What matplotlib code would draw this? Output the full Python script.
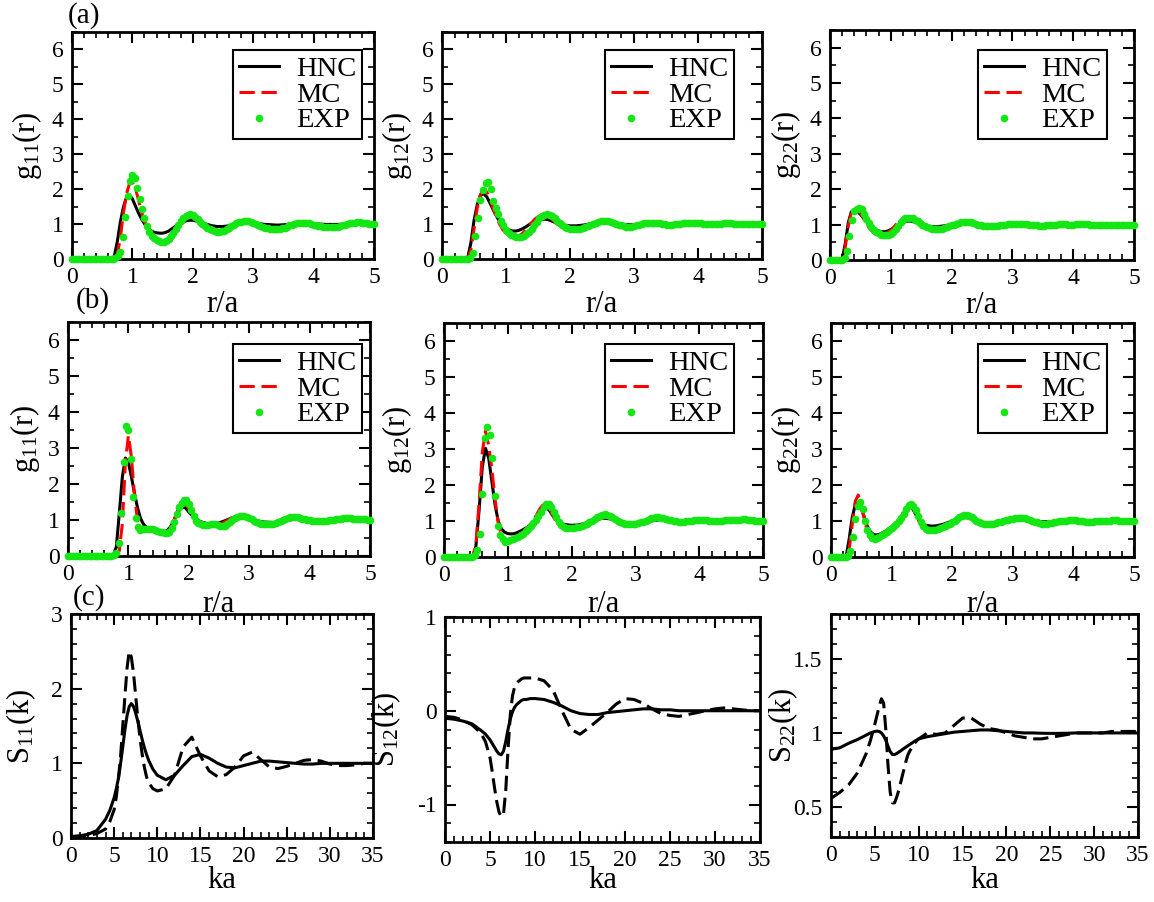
import numpy as np
import matplotlib
matplotlib.use("Agg")
import matplotlib.pyplot as plt
from matplotlib.ticker import MultipleLocator

plt.rcParams['font.family'] = ['Liberation Serif', 'DejaVu Serif']
plt.rcParams['mathtext.fontset'] = 'custom'
plt.rcParams['mathtext.rm'] = 'Liberation Serif'
plt.rcParams['mathtext.it'] = 'Liberation Serif:italic'
plt.rcParams['axes.unicode_minus'] = False

# ---------------- g(r) data: HNC and MC curves ----------------
r_line = [0.00, 0.05, 0.10, 0.15, 0.20, 0.25, 0.30, 0.35, 0.40, 0.45,
          0.50, 0.55, 0.60, 0.65, 0.70, 0.75, 0.80, 0.85, 0.90, 0.95,
          1.00, 1.05, 1.10, 1.15, 1.20, 1.25, 1.30, 1.35, 1.40, 1.45,
          1.50, 1.55, 1.60, 1.65, 1.70, 1.75, 1.80, 1.85, 1.90, 1.95,
          2.0, 2.1, 2.2, 2.3, 2.4, 2.5, 2.6, 2.7, 2.8, 2.9,
          3.0, 3.2, 3.4, 3.6, 3.8, 4.0, 4.2, 4.4, 4.6, 4.8,
          5.0]

hnc_a11 = [0, 0, 0, 0, 0, 0, 0, 0, 0, 0,
           0, 0, 0, 0, 0.08, 0.5, 1.05, 1.48, 1.75, 1.83,
           1.72, 1.52, 1.32, 1.15, 1.01, 0.9, 0.82, 0.77, 0.75, 0.74,
           0.74, 0.76, 0.8, 0.86, 0.92, 0.98, 1.03, 1.07, 1.1, 1.11,
           1.11, 1.07, 1.01, 0.96, 0.93, 0.93, 0.95, 0.99, 1.02, 1.04,
           1.03, 0.99, 0.97, 0.99, 1.01, 1.01, 0.99, 0.99, 1.0, 1.0,
           1.0]
mc_a11 = [0, 0, 0, 0, 0, 0, 0, 0, 0, 0,
          0, 0, 0, 0, 0, 0.12, 0.6, 1.3, 1.85, 2.15,
          2.2, 2.02, 1.7, 1.35, 1.08, 0.88, 0.74, 0.64, 0.57, 0.53,
          0.52, 0.54, 0.6, 0.7, 0.83, 0.97, 1.09, 1.19, 1.25, 1.27,
          1.25, 1.12, 0.96, 0.85, 0.8, 0.81, 0.88, 0.98, 1.05, 1.07,
          1.03, 0.92, 0.87, 0.95, 1.03, 1.0, 0.93, 0.92, 0.99, 1.04,
          1.0]

hnc_a12 = [0, 0, 0, 0, 0, 0, 0, 0, 0.02, 0.45,
           1.1, 1.55, 1.82, 1.87, 1.78, 1.6, 1.41, 1.23, 1.08, 0.96,
           0.88, 0.83, 0.8, 0.8, 0.82, 0.86, 0.91, 0.97, 1.03, 1.08,
           1.12, 1.14, 1.14, 1.13, 1.1, 1.06, 1.02, 0.99, 0.97, 0.96,
           0.95, 0.95, 0.97, 1.0, 1.03, 1.04, 1.04, 1.02, 1.0, 0.98,
           0.98, 0.99, 1.01, 1.01, 1.0, 1.0, 1.0, 1.0, 1.0, 1.0,
           1.0]
mc_a12 = [0, 0, 0, 0, 0, 0, 0, 0, 0, 0.25,
          0.85, 1.45, 1.85, 1.97, 1.92, 1.72, 1.45, 1.2, 1.0, 0.84,
          0.74, 0.67, 0.63, 0.63, 0.66, 0.72, 0.81, 0.92, 1.04, 1.14,
          1.21, 1.25, 1.25, 1.22, 1.16, 1.08, 1.0, 0.94, 0.89, 0.86,
          0.85, 0.85, 0.89, 0.96, 1.03, 1.08, 1.08, 1.04, 0.99, 0.95,
          0.94, 0.98, 1.04, 1.0, 0.97, 1.02, 1.01, 0.99, 1.0, 1.0,
          1.0]

hnc_a22 = [0, 0, 0, 0, 0.03, 0.45, 1.05, 1.36, 1.41, 1.37,
           1.29, 1.19, 1.09, 1.0, 0.92, 0.86, 0.82, 0.8, 0.8, 0.82,
           0.86, 0.91, 0.97, 1.03, 1.07, 1.09, 1.1, 1.09, 1.07, 1.04,
           1.01, 0.98, 0.96, 0.95, 0.94, 0.94, 0.95, 0.96, 0.97, 0.99,
           1.0, 1.02, 1.03, 1.03, 1.02, 1.01, 0.99, 0.99, 0.99, 1.0,
           1.0, 1.01, 1.0, 1.0, 1.0, 1.0, 1.0, 1.0, 1.0, 1.0,
           1.0]
mc_a22 = [0, 0, 0, 0, 0.02, 0.35, 0.95, 1.35, 1.47, 1.44,
          1.33, 1.18, 1.03, 0.9, 0.8, 0.74, 0.71, 0.7, 0.72, 0.77,
          0.84, 0.93, 1.03, 1.12, 1.17, 1.19, 1.18, 1.15, 1.1, 1.04,
          0.98, 0.93, 0.9, 0.88, 0.87, 0.87, 0.88, 0.9, 0.93, 0.96,
          0.99, 1.03, 1.06, 1.06, 1.04, 1.01, 0.97, 0.96, 0.97, 1.0,
          1.02, 1.03, 0.99, 0.98, 1.01, 1.01, 1.02, 1.0, 1.0, 1.0,
          1.0]

hnc_b11 = [0, 0, 0, 0, 0, 0, 0, 0, 0, 0,
           0, 0, 0, 0, 0, 0.02, 0.25, 1.2, 2.2, 2.72,
           2.6, 2.2, 1.75, 1.35, 1.05, 0.88, 0.8, 0.76, 0.74, 0.72,
           0.7, 0.68, 0.68, 0.72, 0.82, 0.98, 1.15, 1.29, 1.36, 1.33,
           1.22, 1.05, 0.95, 0.9, 0.9, 0.92, 0.98, 1.05, 1.1, 1.1,
           1.05, 0.95, 0.93, 0.99, 1.03, 1.0, 0.98, 0.99, 1.01, 1.01,
           1.0]
mc_b11 = [0, 0, 0, 0, 0, 0, 0, 0, 0, 0,
          0, 0, 0, 0, 0, 0, 0, 0.15, 0.9, 2.6,
          3.35, 2.75, 1.7, 1.0, 0.75, 0.7, 0.7, 0.71, 0.71, 0.7,
          0.68, 0.65, 0.63, 0.65, 0.78, 0.98, 1.2, 1.4, 1.48, 1.45,
          1.32, 1.02, 0.88, 0.86, 0.87, 0.86, 0.95, 1.05, 1.11, 1.1,
          1.02, 0.92, 0.91, 0.97, 1.05, 1.0, 0.96, 0.97, 1.01, 1.02,
          1.0]

hnc_b12 = [0, 0, 0, 0, 0, 0, 0, 0, 0, 0,
           0.3, 1.3, 2.5, 3.02, 2.75, 2.1, 1.45, 1.0, 0.78, 0.69,
           0.65, 0.64, 0.65, 0.68, 0.72, 0.77, 0.82, 0.89, 0.97, 1.08,
           1.21, 1.33, 1.38, 1.3, 1.16, 1.04, 0.96, 0.92, 0.9, 0.89,
           0.88, 0.89, 0.93, 0.98, 1.04, 1.08, 1.06, 1.0, 0.97, 0.95,
           0.95, 0.99, 1.04, 1.0, 0.99, 1.01, 1.0, 1.0, 1.0, 1.0,
           1.0]
mc_b12 = [0, 0, 0, 0, 0, 0, 0, 0, 0, 0,
          0.35, 1.5, 2.9, 3.5, 3.1, 2.45, 1.6, 0.95, 0.6, 0.45,
          0.42, 0.45, 0.5, 0.57, 0.64, 0.72, 0.8, 0.9, 1.02, 1.17,
          1.33, 1.45, 1.48, 1.38, 1.18, 1.0, 0.9, 0.84, 0.82, 0.81,
          0.81, 0.82, 0.88, 0.97, 1.07, 1.13, 1.1, 1.01, 0.95, 0.93,
          0.93, 0.98, 1.07, 1.02, 0.97, 1.02, 1.0, 1.0, 1.01, 1.01,
          1.0]

hnc_b22 = [0, 0, 0, 0, 0, 0.02, 0.5, 1.1, 1.45, 1.5,
           1.36, 1.1, 0.85, 0.7, 0.63, 0.61, 0.63, 0.67, 0.72, 0.78,
           0.84, 0.91, 0.99, 1.08, 1.2, 1.33, 1.4, 1.33, 1.18, 1.03,
           0.94, 0.89, 0.87, 0.86, 0.86, 0.87, 0.89, 0.91, 0.94, 0.97,
           1.0, 1.06, 1.1, 1.07, 1.01, 0.96, 0.93, 0.93, 0.96, 1.0,
           1.04, 1.04, 0.98, 0.98, 1.01, 1.01, 1.0, 1.0, 1.0, 1.0,
           1.0]
mc_b22 = [0, 0, 0, 0, 0, 0, 0.2, 0.9, 1.55, 1.72,
          1.45, 1.05, 0.7, 0.52, 0.47, 0.48, 0.53, 0.6, 0.67, 0.74,
          0.82, 0.9, 1.0, 1.1, 1.25, 1.4, 1.48, 1.42, 1.25, 1.0,
          0.85, 0.77, 0.74, 0.74, 0.75, 0.78, 0.81, 0.85, 0.89, 0.93,
          0.97, 1.04, 1.12, 1.1, 1.02, 0.94, 0.9, 0.9, 0.95, 1.01,
          1.05, 1.05, 0.96, 0.96, 1.01, 1.02, 1.0, 0.99, 1.0, 1.01,
          1.0]

# ---------------- g(r) data: EXP points, one every 0.04 in r/a ----------------
r_exp = np.round(np.arange(126) * 0.04, 2)

exp_a11 = [0, 0, 0, 0, 0, 0, 0, 0, 0, 0,
           0, 0, 0, 0, 0, 0, 0, 0, 0.04, 0.1,
           0.21, 0.62, 1.2, 1.79, 2.24, 2.41, 2.31, 2.03, 1.72, 1.44,
           1.16, 0.94, 0.77, 0.67, 0.6, 0.55, 0.51, 0.49, 0.49, 0.52,
           0.57, 0.65, 0.75, 0.86, 0.98, 1.08, 1.17, 1.24, 1.27, 1.28,
           1.26, 1.21, 1.14, 1.07, 1.0, 0.94, 0.89, 0.85, 0.82, 0.8,
           0.78, 0.78, 0.79, 0.81, 0.85, 0.89, 0.94, 0.98, 1.02, 1.05,
           1.07, 1.08, 1.08, 1.08, 1.06, 1.04, 1.01, 0.98, 0.95, 0.92,
           0.9, 0.88, 0.86, 0.85, 0.85, 0.85, 0.86, 0.88, 0.9, 0.93,
           0.96, 0.98, 1.0, 1.02, 1.03, 1.04, 1.04, 1.03, 1.02, 1.0,
           0.98, 0.97, 0.95, 0.94, 0.93, 0.92, 0.91, 0.91, 0.91, 0.92,
           0.93, 0.95, 0.96, 0.98, 1.0, 1.02, 1.03, 1.04, 1.05, 1.05,
           1.04, 1.03, 1.02, 1.01, 1.0, 0.99]
exp_a12 = [0, 0, 0, 0, 0, 0, 0, 0, 0, 0,
           0, 0.03, 0.16, 0.65, 1.18, 1.68, 1.98, 2.17, 2.2, 2.0,
           1.66, 1.45, 1.28, 1.1, 0.96, 0.84, 0.75, 0.69, 0.65, 0.63,
           0.62, 0.63, 0.66, 0.71, 0.78, 0.87, 0.97, 1.07, 1.16, 1.23,
           1.27, 1.28, 1.26, 1.22, 1.16, 1.09, 1.03, 0.97, 0.92, 0.89,
           0.87, 0.86, 0.85, 0.85, 0.86, 0.88, 0.91, 0.94, 0.98, 1.01,
           1.04, 1.07, 1.09, 1.1, 1.1, 1.09, 1.07, 1.04, 1.01, 0.98,
           0.96, 0.94, 0.93, 0.93, 0.93, 0.94, 0.96, 0.98, 1.0, 1.02,
           1.03, 1.04, 1.04, 1.04, 1.03, 1.02, 1.0, 0.99, 0.98, 0.98,
           0.98, 0.99, 1.0, 1.01, 1.02, 1.03, 1.04, 1.04, 1.04, 1.04,
           1.03, 1.02, 1.01, 1.0, 0.99, 0.99, 0.99, 1.0, 1.0, 1.01,
           1.02, 1.02, 1.02, 1.02, 1.01, 1.0, 1.0, 0.99, 0.99, 1.0,
           1.0, 1.01, 1.01, 1.01, 1.0, 1.0]
exp_a22 = [0, 0, 0, 0, 0, 0, 0.05, 0.25, 0.68, 1.12,
           1.38, 1.45, 1.48, 1.43, 1.3, 1.16, 1.04, 0.94, 0.86, 0.8,
           0.75, 0.72, 0.7, 0.7, 0.71, 0.74, 0.8, 0.88, 0.97, 1.07,
           1.14, 1.18, 1.2, 1.2, 1.18, 1.14, 1.1, 1.05, 1.0, 0.96,
           0.93, 0.91, 0.89, 0.88, 0.87, 0.87, 0.88, 0.9, 0.92, 0.95,
           0.98, 1.0, 1.02, 1.04, 1.06, 1.07, 1.07, 1.07, 1.06, 1.04,
           1.02, 1.0, 0.98, 0.97, 0.96, 0.95, 0.95, 0.95, 0.96, 0.97,
           0.98, 0.99, 1.0, 1.01, 1.02, 1.03, 1.03, 1.03, 1.03, 1.03,
           1.02, 1.01, 1.0, 0.99, 0.98, 0.98, 0.97, 0.97, 0.97, 0.98,
           0.98, 0.99, 1.0, 1.0, 1.01, 1.01, 1.01, 1.01, 1.0, 1.0,
           1.0, 1.01, 1.02, 1.02, 1.02, 1.02, 1.01, 1.0, 0.99, 0.99,
           0.99, 0.99, 0.99, 1.0, 1.0, 1.0, 1.0, 1.0, 1.0, 1.0,
           1.0, 1.0, 1.0, 1.0, 1.0, 1.0]
exp_b11 = [0, 0, 0, 0, 0, 0, 0, 0, 0, 0,
           0, 0, 0, 0, 0, 0, 0, 0, 0, 0.03,
           0.08, 0.35, 1.2, 2.6, 3.6, 3.5, 2.7, 1.64, 1.06, 0.8,
           0.72, 0.74, 0.75, 0.75, 0.75, 0.74, 0.72, 0.7, 0.68, 0.66,
           0.64, 0.64, 0.68, 0.78, 0.94, 1.18, 1.36, 1.48, 1.55, 1.55,
           1.45, 1.28, 1.1, 0.98, 0.92, 0.88, 0.86, 0.86, 0.87, 0.89,
           0.9, 0.89, 0.86, 0.83, 0.82, 0.84, 0.89, 0.95, 1.01, 1.06,
           1.09, 1.11, 1.12, 1.11, 1.09, 1.06, 1.02, 0.98, 0.95, 0.92,
           0.9, 0.89, 0.88, 0.88, 0.89, 0.9, 0.92, 0.95, 0.98, 1.01,
           1.03, 1.05, 1.07, 1.08, 1.08, 1.07, 1.06, 1.04, 1.02, 1.0,
           0.99, 0.98, 0.97, 0.97, 0.97, 0.97, 0.97, 0.98, 0.99, 1.0,
           1.01, 1.02, 1.03, 1.04, 1.05, 1.05, 1.05, 1.05, 1.04, 1.04,
           1.03, 1.03, 1.02, 1.02, 1.01, 1.01]
exp_b12 = [0, 0, 0, 0, 0, 0, 0, 0, 0, 0,
           0, 0, 0.06, 0.2, 0.65, 1.75, 3.3, 3.62, 3.38, 2.75,
           1.7, 0.85, 0.62, 0.5, 0.42, 0.44, 0.46, 0.49, 0.52, 0.55,
           0.6, 0.65, 0.72, 0.78, 0.85, 0.94, 1.04, 1.14, 1.26, 1.38,
           1.47, 1.48, 1.4, 1.26, 1.1, 0.97, 0.88, 0.82, 0.8, 0.8,
           0.8, 0.81, 0.82, 0.84, 0.87, 0.9, 0.93, 0.97, 1.01, 1.06,
           1.1, 1.14, 1.17, 1.19, 1.18, 1.15, 1.1, 1.05, 1.0, 0.97,
           0.95, 0.93, 0.93, 0.93, 0.93, 0.93, 0.94, 0.96, 0.98, 1.01,
           1.04, 1.07, 1.09, 1.1, 1.1, 1.09, 1.08, 1.06, 1.04, 1.02,
           1.0, 0.99, 0.98, 0.98, 0.98, 0.99, 1.0, 1.01, 1.02, 1.03,
           1.03, 1.03, 1.03, 1.02, 1.01, 1.0, 1.0, 1.0, 1.0, 1.01,
           1.02, 1.02, 1.02, 1.02, 1.02, 1.03, 1.04, 1.05, 1.05, 1.04,
           1.03, 1.02, 1.01, 1.0, 1.0, 1.0]
exp_b22 = [0, 0, 0, 0, 0, 0, 0, 0.03, 0.18, 0.55,
           1.05, 1.42, 1.52, 1.32, 1.0, 0.74, 0.6, 0.52, 0.5, 0.52,
           0.56, 0.6, 0.65, 0.7, 0.75, 0.8, 0.86, 0.93, 1.0, 1.09,
           1.2, 1.33, 1.44, 1.48, 1.43, 1.3, 1.14, 0.98, 0.86, 0.79,
           0.75, 0.74, 0.74, 0.76, 0.78, 0.81, 0.84, 0.87, 0.9, 0.93,
           0.97, 1.01, 1.05, 1.1, 1.15, 1.18, 1.18, 1.15, 1.1, 1.05,
           1.0, 0.97, 0.94, 0.92, 0.91, 0.91, 0.91, 0.92, 0.94, 0.96,
           0.98, 1.0, 1.02, 1.04, 1.05, 1.06, 1.07, 1.08, 1.08, 1.08,
           1.07, 1.05, 1.03, 1.0, 0.98, 0.96, 0.94, 0.93, 0.93, 0.93,
           0.94, 0.95, 0.96, 0.98, 0.99, 1.0, 1.01, 1.01, 1.02, 1.02,
           1.02, 1.02, 1.01, 1.0, 0.99, 0.98, 0.98, 0.98, 0.98, 0.99,
           1.0, 1.01, 1.01, 1.01, 1.01, 1.01, 1.02, 1.02, 1.02, 1.01,
           1.0, 1.0, 1.0, 1.0, 1.01, 1.01]

# ---------------- S(k) data (row c) ----------------
ka = [0, 1, 2, 3, 4, 4.5, 5, 5.25, 5.5, 5.75,
      6, 6.25, 6.5, 6.75, 7, 7.25, 7.5, 7.75, 8, 8.25,
      8.5, 8.75, 9, 9.5, 10, 11, 12, 13, 14, 15,
      16, 17, 18, 19, 20, 21, 22, 23, 24, 25,
      26, 27, 28, 29, 30, 31, 32, 33, 34, 35]

s11_solid = [0.02, 0.03, 0.05, 0.1, 0.25, 0.37, 0.54, 0.66, 0.8, 1.0,
             1.22, 1.45, 1.64, 1.76, 1.8, 1.76, 1.67, 1.56, 1.44, 1.32,
             1.21, 1.12, 1.04, 0.92, 0.84, 0.78, 0.84, 0.97, 1.09, 1.12,
             1.07, 1.0, 0.95, 0.94, 0.97, 1.0, 1.03, 1.03, 1.02, 1.01,
             1.0, 0.99, 0.99, 1.0, 1.0, 1.0, 1.0, 1.0, 1.0, 1.0]
s11_dashed = [0.01, 0.02, 0.03, 0.06, 0.12, 0.22, 0.38, 0.55, 0.8, 1.1,
              1.5, 1.9, 2.28, 2.5, 2.42, 2.2, 1.9, 1.6, 1.33, 1.12,
              0.95, 0.82, 0.74, 0.66, 0.63, 0.66, 0.84, 1.22, 1.35, 1.1,
              0.9, 0.82, 0.85, 0.95, 1.1, 1.15, 1.05, 0.95, 0.93, 0.96,
              1.0, 1.04, 1.05, 1.03, 0.99, 0.97, 0.97, 0.98, 1.0, 1.0]

s12_solid = [-0.08, -0.09, -0.11, -0.14, -0.21, -0.25, -0.31, -0.35, -0.39, -0.43,
             -0.46, -0.47, -0.43, -0.33, -0.2, -0.09, -0.01, 0.04, 0.07, 0.09,
             0.11, 0.12, 0.12, 0.13, 0.13, 0.12, 0.09, 0.05, 0.0, -0.03,
             -0.04, -0.04, -0.02, -0.01, 0.0, 0.01, 0.02, 0.02, 0.01, 0.01,
             0.0, 0.0, 0.0, 0.0, 0.0, 0.0, 0.0, 0.0, 0.0, 0.0]
s12_dashed = [-0.06, -0.07, -0.1, -0.15, -0.24, -0.33, -0.5, -0.65, -0.82, -0.97,
              -1.08, -1.13, -1.1, -0.85, -0.42, -0.05, 0.16, 0.26, 0.3, 0.32,
              0.34, 0.35, 0.35, 0.35, 0.35, 0.32, 0.22, 0.0, -0.2, -0.25,
              -0.18, -0.1, -0.02, 0.07, 0.13, 0.12, 0.08, 0.02, -0.03, -0.05,
              -0.06, -0.04, -0.02, 0.0, 0.02, 0.03, 0.02, 0.01, 0.0, 0.0]

s22_solid = [0.89, 0.9, 0.93, 0.955, 0.985, 1.0, 1.01, 1.012, 1.01, 1.0,
             0.98, 0.95, 0.91, 0.875, 0.855, 0.855, 0.862, 0.872, 0.882, 0.893,
             0.903, 0.913, 0.923, 0.943, 0.96, 0.975, 0.985, 0.995, 1.005, 1.01,
             1.015, 1.02, 1.02, 1.015, 1.01, 1.005, 1.0, 1.0, 0.998, 0.997,
             0.997, 0.998, 1.0, 1.0, 1.0, 1.0, 1.0, 1.0, 1.0, 1.0]
s22_dashed = [0.56, 0.6, 0.65, 0.73, 0.86, 0.95, 1.06, 1.12, 1.18, 1.23,
              1.2, 1.02, 0.78, 0.6, 0.53, 0.53, 0.57, 0.62, 0.68, 0.74,
              0.8, 0.85, 0.88, 0.93, 0.96, 1.0, 0.99, 1.0, 1.05, 1.1,
              1.1, 1.06, 1.03, 1.02, 1.0, 0.98, 0.97, 0.96, 0.96, 0.97,
              0.98, 0.99, 1.0, 1.0, 1.0, 1.0, 1.01, 1.01, 1.01, 1.01]

# ---------------- figure ----------------
W, H = 1154, 902
fig = plt.figure(figsize=(W / 100, H / 100), dpi=100)
GREEN = '#14e614'


def add_box(l, t, r, b):
    return fig.add_axes([l / W, 1 - b / H, (r - l) / W, (b - t) / H])


def style(ax, xmaj, xmin, ymaj, ymin):
    ax.xaxis.set_major_locator(MultipleLocator(xmaj))
    ax.xaxis.set_minor_locator(MultipleLocator(xmin))
    ax.yaxis.set_major_locator(MultipleLocator(ymaj))
    ax.yaxis.set_minor_locator(MultipleLocator(ymin))
    ax.tick_params(which='both', direction='in', top=True, right=True,
                   labelsize=17, pad=6)
    ax.tick_params(which='major', length=8, width=1.5)
    ax.tick_params(which='minor', length=4.5, width=1.2)
    for s in ax.spines.values():
        s.set_linewidth(2.0)


def place_labels(ax, box, xlab, ylab, xlab_y, ylab_x):
    l, t, r, b = box
    ax.set_xlabel(xlab, fontsize=22)
    ax.set_ylabel(ylab, fontsize=22)
    ax.xaxis.label.set_va('center')
    ax.yaxis.label.set_va('center')
    ax.xaxis.set_label_coords(0.5, (b - xlab_y) / (b - t))
    ax.yaxis.set_label_coords((ylab_x - l) / (r - l), 0.5)


# g(r) panels: (box px, hnc, mc, exp, ylabel, legend right px, legend top px, ylabel x px, xlabel y px)
g_panels = [
    ((72, 32, 374, 259), hnc_a11, mc_a11, exp_a11, 'g$_{11}$(r)', 362, 50, 27, 305),
    ((442, 32, 762, 259), hnc_a12, mc_a12, exp_a12, 'g$_{12}$(r)', 734, 50, 397, 305),
    ((830, 30, 1134, 260), hnc_a22, mc_a22, exp_a22, 'g$_{22}$(r)', 1107, 50, 786, 305),
    ((68, 322, 370, 556), hnc_b11, mc_b11, exp_b11, 'g$_{11}$(r)', 362, 344, 25, 605),
    ((444, 323, 763, 557), hnc_b12, mc_b12, exp_b12, 'g$_{12}$(r)', 734, 344, 397, 605),
    ((831, 323, 1134, 557), hnc_b22, mc_b22, exp_b22, 'g$_{22}$(r)', 1107, 344, 786, 605),
]

for box, hnc, mc, exp, ylab, leg_r, leg_t, ylx, xly in g_panels:
    ax = add_box(*box)
    ax.plot(r_line, hnc, color='black', lw=2.2, label='HNC', zorder=3)
    ax.plot(r_line, mc, color='red', lw=2.2, dashes=(5, 2.2), label='MC', zorder=3)
    ax.plot(r_exp, exp, ls='none', marker='o', ms=5.5, mew=0, color=GREEN,
            label='EXP', zorder=4, clip_on=False)
    ax.set_xlim(0, 5)
    ax.set_ylim(0, 6.5)
    style(ax, 1, 0.2, 1, 0.5)
    place_labels(ax, box, 'r/a', ylab, xly, ylx)
    l, t, r, b = box
    leg = ax.legend(loc='upper right',
                    bbox_to_anchor=((leg_r - l) / (r - l), (b - leg_t) / (b - t)),
                    borderaxespad=0, fontsize=20.5, frameon=True, fancybox=False,
                    edgecolor='black', framealpha=1, handlelength=1.4,
                    handletextpad=0.6, labelspacing=0.0, borderpad=0.2,
                    numpoints=1)
    leg.get_frame().set_linewidth(1.5)

# S(k) panels
s_panels = [
    ((71, 614, 373, 838), s11_solid, s11_dashed, 'S$_{11}$(k)', (0, 3), 1, 0.2, 21),
    ((445, 617, 760, 842), s12_solid, s12_dashed, 'S$_{12}$(k)', (-1.4, 1), 1, 0.2, 386),
    ((831, 614, 1138, 837), s22_solid, s22_dashed, 'S$_{22}$(k)', (0.3, 1.8), 0.5, 0.1, 783),
]

for box, sol, dsh, ylab, ylim, ymaj, ymin, ylx in s_panels:
    ax = add_box(*box)
    ax.plot(ka, sol, color='black', lw=2.2)
    ax.plot(ka, dsh, color='black', lw=2.2, dashes=(5, 2.2))
    ax.set_xlim(0, 35)
    ax.set_ylim(*ylim)
    style(ax, 5, 1, ymaj, ymin)
    if ymaj == 0.5:
        ax.set_yticks([0.5, 1.0, 1.5])
        ax.set_yticklabels(['0.5', '1', '1.5'])
    place_labels(ax, box, 'ka', ylab, 880, ylx)

fig.text(68 / W, 1 - 16 / H, '(a)', fontsize=21, ha='left', va='center')
fig.text(76 / W, 1 - 301 / H, '(b)', fontsize=21, ha='left', va='center')
fig.text(73 / W, 1 - 598 / H, '(c)', fontsize=21, ha='left', va='center')

fig.savefig('out.png', dpi=100, facecolor='white')
